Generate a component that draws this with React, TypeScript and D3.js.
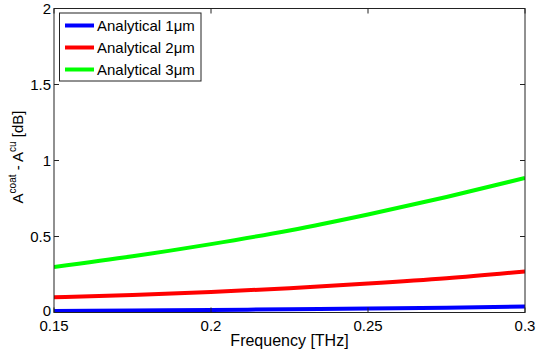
import React from "react";
import * as d3 from "d3";

const freqs = [0.15, 0.175, 0.2, 0.225, 0.25, 0.275, 0.3];
const series1 = [0.01, 0.013, 0.017, 0.021, 0.026, 0.032, 0.04];
const series2 = [0.1, 0.115, 0.135, 0.16, 0.19, 0.225, 0.27];
const series3 = [0.3, 0.37, 0.45, 0.54, 0.645, 0.76, 0.885];
const seriesNames = ["Analytical 1\u03bcm", "Analytical 2\u03bcm", "Analytical 3\u03bcm"];
const seriesColors = ["#0000ff", "#ff0000", "#00ff00"];
const xTicks = [0.15, 0.2, 0.25, 0.3];
const yTicks = [0, 0.5, 1, 1.5, 2];

export default function App() {
  const W = 536, H = 356;
  const L = 54, R = 525, T = 8.5, B = 312.5;
  const x = d3.scaleLinear().domain([0.15, 0.3]).range([L, R]);
  const y = d3.scaleLinear().domain([0, 2]).range([B, T]);
  const line = d3.line<number>().x((_, i) => x(freqs[i])).y((d) => y(d)).curve(d3.curveMonotoneX);
  const all = [series1, series2, series3];
  const font = "'Liberation Sans', Arial, sans-serif";
  return (
    <svg width={W} height={H} style={{ position: "absolute", left: 0, top: 0 }} fontFamily={font}>
      <rect x={0} y={0} width={W} height={H} fill="#fff" />
      <defs>
        <clipPath id="clip"><rect x={L} y={T} width={R - L} height={B - T} /></clipPath>
      </defs>
      <g clipPath="url(#clip)">
        {all.map((s, i) => (
          <path key={i} d={line(s) || ""} fill="none" stroke={seriesColors[i]} strokeWidth={4} />
        ))}
      </g>
      <rect x={L} y={T} width={R - L} height={B - T} fill="none" stroke="#222" strokeWidth={1} />
      {xTicks.map((t) => (
        <g key={t}>
          <line x1={x(t)} x2={x(t)} y1={B} y2={B - 5} stroke="#222" />
          <line x1={x(t)} x2={x(t)} y1={T} y2={T + 5} stroke="#222" />
          <text x={x(t)} y={B + 18.5} fontSize={15} textAnchor="middle" fill="#000">{t}</text>
        </g>
      ))}
      {yTicks.map((t) => (
        <g key={t}>
          <line x1={L} x2={L + 5} y1={y(t)} y2={y(t)} stroke="#222" />
          <line x1={R} x2={R - 5} y1={y(t)} y2={y(t)} stroke="#222" />
          <text x={L - 3} y={y(t) + (t === 0 ? 3 : 5)} fontSize={15} textAnchor="end" fill="#000">{t}</text>
        </g>
      ))}
      <text x={(L + R) / 2} y={B + 33} fontSize={16} textAnchor="middle" fill="#000">Frequency [THz]</text>
      <text transform={`translate(23, 157) rotate(-90)`} fontSize={15} textAnchor="middle" fill="#000">
        A<tspan dy={-7} fontSize={10}>coat</tspan><tspan dy={7}> - A</tspan><tspan dy={-7} fontSize={10}>cu</tspan><tspan dy={7}> [dB]</tspan>
      </text>
      <g>
        <rect x={59.5} y={13} width={141.5} height={68} fill="#fff" stroke="#222" strokeWidth={1} />
        {seriesNames.map((n, i) => (
          <g key={n}>
            <line x1={65} x2={94} y1={25.5 + i * 22} y2={25.5 + i * 22} stroke={seriesColors[i]} strokeWidth={4} />
            <text x={97} y={25.5 + i * 22 + 5.5} fontSize={15} fill="#000">{n}</text>
          </g>
        ))}
      </g>
    </svg>
  );
}
